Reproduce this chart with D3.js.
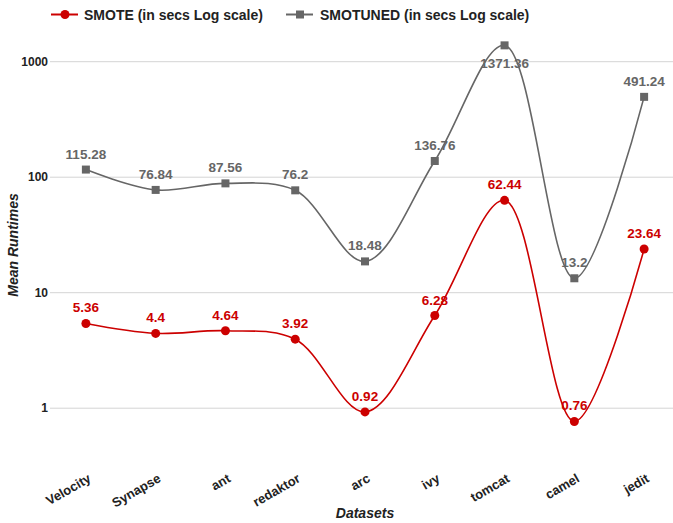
<!DOCTYPE html>
<html>
<head>
<meta charset="utf-8">
<script src="https://cdn.jsdelivr.net/npm/d3@7"></script>
<style>
  body { margin: 0; background: #fff; }
  text { font-family: "Liberation Sans", Arial, sans-serif; }
</style>
</head>
<body>
<div id="chart"></div>
<script>
// data
var datasets = ["Velocity", "Synapse", "ant", "redaktor", "arc", "ivy", "tomcat", "camel", "jedit"];
var smote = [5.36, 4.4, 4.64, 3.92, 0.92, 6.28, 62.44, 0.76, 23.64];
var smotuned = [115.28, 76.84, 87.56, 76.2, 18.48, 136.76, 1371.36, 13.2, 491.24];
var yTicks = [1, 10, 100, 1000];

var svgWidth = 673;
var svgHeight = 523;

var svg = d3.select("#chart")
    .append("svg")
    .attr("width", svgWidth)
    .attr("height", svgHeight);

var xScale = d3.scaleBand()
    .domain(datasets)
    .range([51, 679]);

var cx = d => xScale(d) + xScale.bandwidth() / 2;

var yScale = d3.scaleLog()
    .domain([1, 1000])
    .range([407.7, 61.2]);

// gridlines + y tick labels
var leftAxis = d3.axisLeft(yScale)
    .tickValues(yTicks)
    .tickFormat(d3.format("d"))
    .tickSize(-623)
    .tickPadding(2);

var yAxis = svg.append("g")
    .attr("transform", "translate(50, 0)")
    .call(leftAxis);

yAxis.select(".domain").remove();
yAxis.selectAll(".tick line")
    .attr("stroke", "#d4d4d4")
    .attr("stroke-width", 1);
yAxis.selectAll(".tick text")
    .attr("fill", "#222")
    .attr("font-size", "12px")
    .attr("font-weight", "bold")
    .attr("font-family", "Liberation Sans, Arial, sans-serif");

// x labels, rotated
var bottomAxis = d3.axisBottom(xScale).tickSize(0);
var xAxis = svg.append("g")
    .call(bottomAxis);
xAxis.select(".domain").remove();
xAxis.selectAll(".tick text")
    .attr("x", 0)
    .attr("y", 0)
    .attr("dy", 0)
    .attr("text-anchor", "end")
    .attr("transform", "translate(6, 481) rotate(-30)")
    .attr("fill", "#222")
    .attr("font-size", "13px")
    .attr("font-weight", "bold")
    .attr("font-family", "Liberation Sans, Arial, sans-serif");

var line = d3.line()
    .x((d, i) => cx(datasets[i]))
    .y(d => yScale(d))
    .curve(d3.curveCatmullRom.alpha(0.5));

var series = [
    {name: "SMOTE (in secs Log scale)", values: smote, color: "#cc0000", shape: "circle"},
    {name: "SMOTUNED (in secs Log scale)", values: smotuned, color: "#666666", shape: "square"}
];

series.forEach(function(s) {
    svg.append("path")
        .datum(s.values)
        .attr("fill", "none")
        .attr("stroke", s.color)
        .attr("stroke-width", 1.6)
        .attr("d", line);

    if (s.shape === "circle") {
        svg.selectAll(null)
            .data(s.values)
            .enter()
            .append("circle")
            .attr("cx", (d, i) => cx(datasets[i]))
            .attr("cy", d => yScale(d))
            .attr("r", 4.5)
            .attr("fill", s.color);
    } else {
        svg.selectAll(null)
            .data(s.values)
            .enter()
            .append("rect")
            .attr("x", (d, i) => cx(datasets[i]) - 4)
            .attr("y", d => yScale(d) - 4)
            .attr("width", 8)
            .attr("height", 8)
            .attr("fill", s.color);
    }

    svg.selectAll(null)
        .data(s.values)
        .enter()
        .append("text")
        .attr("x", (d, i) => cx(datasets[i]))
        .attr("y", d => d > 1000 ? yScale(d) + 23 : yScale(d) - 11)
        .attr("text-anchor", "middle")
        .attr("fill", s.color)
        .attr("font-size", "13.5px")
        .attr("font-weight", "bold")
        .text(d => d);
});

// legend
var legend = svg.append("g");
var legendPos = [{x: 51, tx: 84}, {x: 286, tx: 320}];
series.forEach(function(s, i) {
    var p = legendPos[i];
    legend.append("line")
        .attr("x1", p.x).attr("x2", p.x + 27)
        .attr("y1", 14.5).attr("y2", 14.5)
        .attr("stroke", s.color)
        .attr("stroke-width", 2);
    if (s.shape === "circle") {
        legend.append("circle")
            .attr("cx", p.x + 14).attr("cy", 14.5).attr("r", 4.5)
            .attr("fill", s.color);
    } else {
        legend.append("rect")
            .attr("x", p.x + 10).attr("y", 10.5)
            .attr("width", 8).attr("height", 8)
            .attr("fill", s.color);
    }
    legend.append("text")
        .attr("x", p.tx)
        .attr("y", 19.5)
        .attr("fill", "#222")
        .attr("font-size", "14px")
        .attr("font-weight", "bold")
        .text(s.name);
});

// axis titles
svg.append("text")
    .attr("transform", "translate(18, 245) rotate(-90)")
    .attr("text-anchor", "middle")
    .attr("fill", "#222")
    .attr("font-size", "14px")
    .attr("font-weight", "bold")
    .attr("font-style", "italic")
    .text("Mean Runtimes");

svg.append("text")
    .attr("x", 365)
    .attr("y", 518)
    .attr("text-anchor", "middle")
    .attr("fill", "#222")
    .attr("font-size", "14px")
    .attr("font-weight", "bold")
    .attr("font-style", "italic")
    .text("Datasets");
</script>
</body>
</html>
